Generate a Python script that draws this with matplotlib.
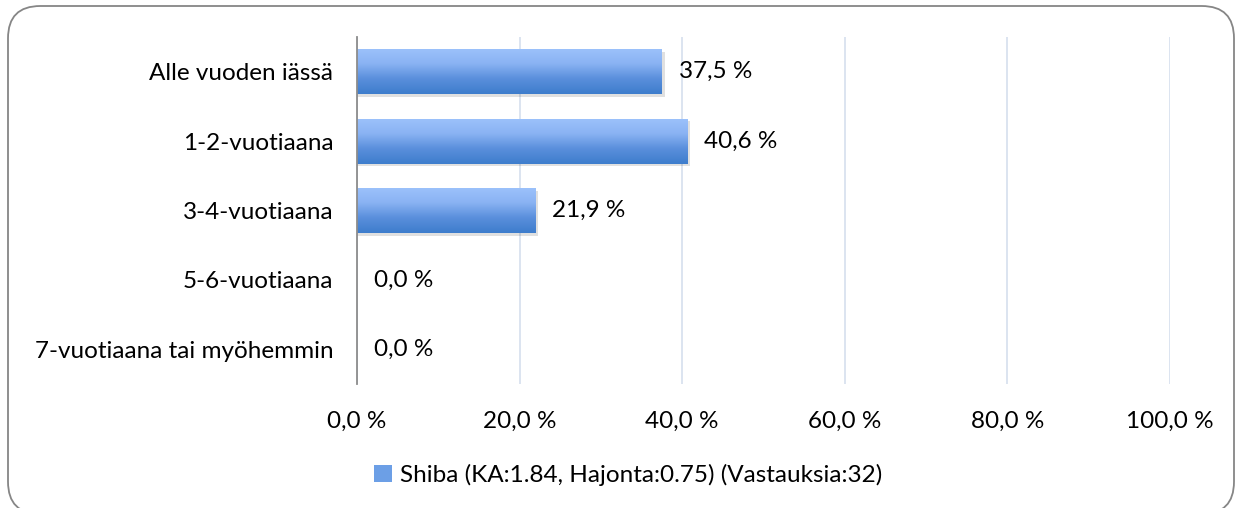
import matplotlib.pyplot as plt
import numpy as np
from matplotlib.patches import FancyBboxPatch, Rectangle, Patch
from matplotlib.colors import LinearSegmentedColormap

plt.rcParams['font.family'] = ['Lato', 'DejaVu Sans']

# data
categories = ['Alle vuoden iässä', '1-2-vuotiaana', '3-4-vuotiaana',
              '5-6-vuotiaana', '7-vuotiaana tai myöhemmin']
values = [37.5, 40.6, 21.9, 0.0, 0.0]
xticks = [0, 20, 40, 60, 80, 100]
legend_label = 'Shiba (KA:1.84, Hajonta:0.75) (Vastauksia:32)'

FS = 17.5

fig = plt.figure(figsize=(12.43, 5.08), dpi=100)

# rounded outer frame
frame = FancyBboxPatch((8 / 1243, -6 / 508), 1226 / 1243, 508 / 508,
                       boxstyle='round,pad=0,rounding_size=0.026',
                       transform=fig.transFigure, fill=False,
                       edgecolor='#868686', linewidth=1.3,
                       mutation_aspect=1243 / 508)
fig.patches.append(frame)

ax = fig.add_axes([357 / 1243, 1 - 384 / 508, (1170 - 357) / 1243, (384 - 37) / 508])

grad = LinearSegmentedColormap.from_list('g', ['#9cc2fb', '#8ab3f3', '#5a8fdc', '#3e7dcc'])
y = np.arange(len(categories))
bar_h = 0.65

ax.set_xlim(0, 100)
ax.set_ylim(len(categories) - 0.5, -0.5)

for i, v in enumerate(values):
    if v > 0:
        # soft shadow
        sh = Rectangle((0, y[i] - bar_h / 2 + 0.04), v + 0.35, bar_h,
                       facecolor='#000000', alpha=0.12, edgecolor='none', zorder=2)
        ax.add_patch(sh)
        rect = Rectangle((0, y[i] - bar_h / 2), v, bar_h,
                         facecolor='none', edgecolor='none', zorder=3)
        ax.add_patch(rect)
        im = ax.imshow(np.linspace(0, 1, 100).reshape(-1, 1), cmap=grad, aspect='auto',
                       extent=(0, v, y[i] + bar_h / 2, y[i] - bar_h / 2),
                       zorder=3, interpolation='bilinear')
        im.set_clip_path(rect)
    ax.annotate(f'{v:.1f} %'.replace('.', ','), (v, y[i]), xytext=(17, 0),
                textcoords='offset pixels',
                va='center', ha='left', fontsize=FS, color='#000000')

ax.set_xlim(0, 100)
ax.set_ylim(len(categories) - 0.5, -0.5)
ax.set_xticks(xticks)
ax.set_xticklabels([f'{t:.1f} %'.replace('.', ',') for t in xticks], fontsize=FS)
ax.set_yticks(y)
ax.set_yticklabels(categories, fontsize=FS)
ax.tick_params(length=0)
ax.tick_params(axis='x', pad=19)
ax.tick_params(axis='y', pad=17)
ax.xaxis.grid(True, color='#d5dfee', linewidth=1.2)
ax.set_axisbelow(True)
for s in ['top', 'right', 'bottom']:
    ax.spines[s].set_visible(False)
ax.spines['left'].set_color('#8c8c8c')
ax.spines['left'].set_linewidth(1.3)
ax.spines['left'].set_zorder(5)

fig.legend(handles=[Patch(facecolor='#6c9fe6', edgecolor='none', label=legend_label)],
           loc='center', bbox_to_anchor=(628 / 1243, 1 - 475 / 508), frameon=False,
           fontsize=FS, handlelength=0.75, handleheight=0.75, handletextpad=0.3)

fig.savefig('out.png', dpi=100)
